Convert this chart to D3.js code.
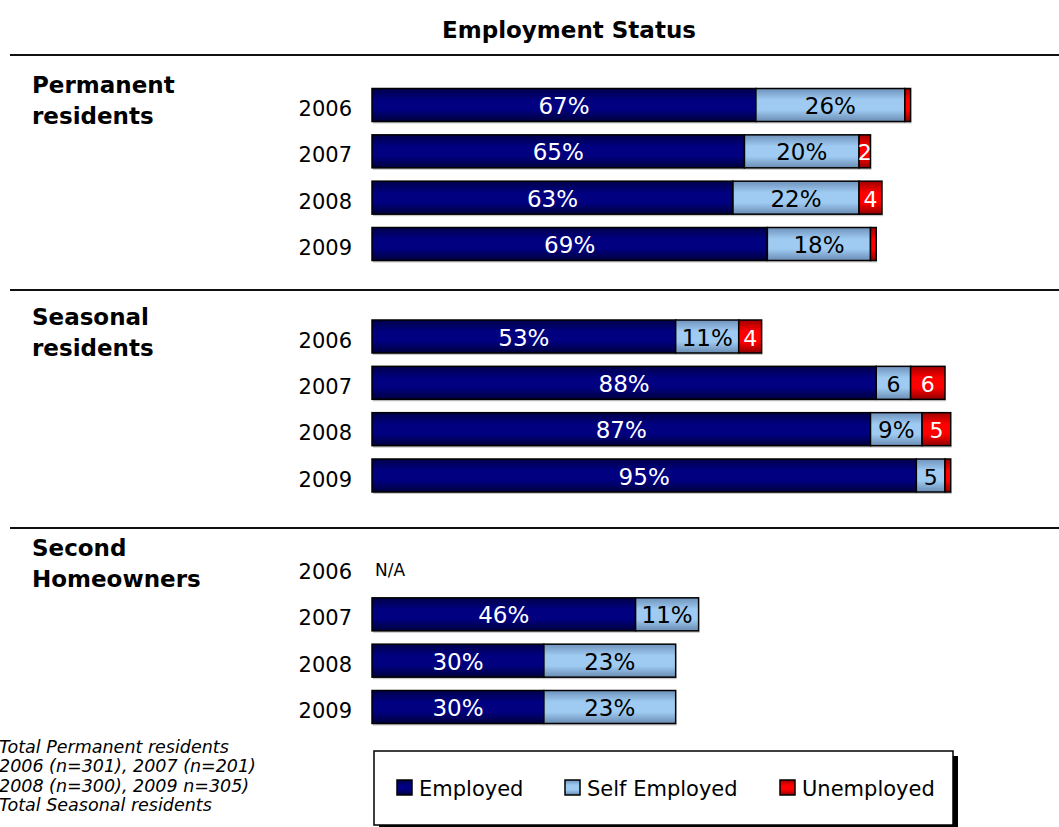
<!DOCTYPE html>
<html>
<head>
<meta charset="utf-8">
<script src="https://cdn.jsdelivr.net/npm/d3@7"></script>
<style>
  body { margin: 0; background: #fff; }
  svg { display: block; font-family: "DejaVu Sans", Verdana, sans-serif; }
</style>
</head>
<body>
<div id="chart"></div>
<script>
// data
const years = ["2006", "2007", "2008", "2009"];
const groupNames = [["Permanent", "residents"], ["Seasonal", "residents"], ["Second", "Homeowners"]];
const seriesNames = ["Employed", "Self Employed", "Unemployed"];
const employed = [[67, 65, 63, 69], [53, 88, 87, 95], [null, 46, 30, 30]];
const selfEmployed = [[26, 20, 22, 18], [11, 6, 9, 5], [null, 11, 23, 23]];
const unemployed = [[1, 2, 4, 1], [4, 6, 5, 1], [null, 0, 0, 0]];
const notes = [
  "Total Permanent residents",
  "2006 (n=301), 2007 (n=201)",
  "2008 (n=300), 2009 n=305)",
  "Total Seasonal residents"
];

const width = 1059, height = 827;
const barH = 33;

const svg = d3.select("#chart").append("svg")
  .attr("width", width)
  .attr("height", height);

//gradients for the bar fills
const defs = svg.append("defs");
const grads = [
  ["gEmp", "#00004a", "#000080", "#00003c"],
  ["gSelf", "#6f92bb", "#9fcbf2", "#6a8cb4"],
  ["gUnemp", "#a00000", "#ff0000", "#900000"]
];
grads.forEach(([id, a, b, c]) => {
  const lg = defs.append("linearGradient").attr("id", id)
    .attr("x1", 0).attr("y1", 0).attr("x2", 0).attr("y2", 1);
  lg.append("stop").attr("offset", "0%").attr("stop-color", a);
  lg.append("stop").attr("offset", "35%").attr("stop-color", b);
  lg.append("stop").attr("offset", "65%").attr("stop-color", b);
  lg.append("stop").attr("offset", "100%").attr("stop-color", c);
});
const fills = ["url(#gEmp)", "url(#gSelf)", "url(#gUnemp)"];
const textColors = ["#fff", "#000", "#fff"];

//scales
const x = d3.scaleLinear().domain([0, 100]).range([372, 945]);
const yGroup = d3.scalePoint().domain([0, 1, 2]).range([105, 568]);
const yRow = d3.scalePoint().domain(years).range([0, 139]);

//title
svg.append("text")
  .attr("x", 569).attr("y", 38)
  .attr("text-anchor", "middle")
  .style("font-weight", "bold")
  .style("font-size", "23px")
  .text("Employment Status");

//separator lines
[55, 290, 528].forEach((ly) => {
  svg.append("line")
    .attr("x1", 10).attr("x2", width)
    .attr("y1", ly).attr("y2", ly)
    .attr("stroke", "#111").attr("stroke-width", 2);
});

//build rows
let rows = [];
groupNames.forEach((g, gi) => {
  years.forEach((yr, i) => {
    rows.push({
      group: gi, year: yr,
      cy: yGroup(gi) + yRow(yr),
      values: employed[gi][i] == null ? null :
        [employed[gi][i], selfEmployed[gi][i], unemployed[gi][i]]
    });
  });
});

//group labels
groupNames.forEach((g, gi) => {
  const t = svg.append("text")
    .attr("x", 32)
    .style("font-weight", "bold")
    .style("font-size", "23px");
  g.forEach((line, li) => {
    t.append("tspan").attr("x", 32)
      .attr("y", yGroup(gi) - 12 + li * 31)
      .text(line);
  });
});

//year labels
svg.selectAll(".yearLabel").data(rows).enter().append("text")
  .attr("class", "yearLabel")
  .attr("x", 352).attr("y", (d) => d.cy + 11)
  .attr("text-anchor", "end")
  .style("font-size", "21px")
  .text((d) => d.year);

const fmt = (v) => (v >= 9 ? v + "%" : v >= 2 ? String(v) : "");

rows.forEach((r) => {
  if (!r.values) {
    svg.append("text")
      .attr("x", 375).attr("y", r.cy + 8)
      .style("font-size", "17px")
      .text("N/A");
    return;
  }
  let start = 0;
  const total = d3.sum(r.values.filter((v) => v > 0));
  // light shadow under the bar
  svg.append("rect")
    .attr("x", x(0) + 1).attr("y", r.cy + barH / 2)
    .attr("width", x(total) - x(0)).attr("height", 2)
    .attr("fill", "#c8c8c8");
  r.values.forEach((v, k) => {
    if (!v) return;
    const x0 = x(start), x1 = x(start + v);
    svg.append("rect")
      .attr("x", x0).attr("y", r.cy - barH / 2)
      .attr("width", x1 - x0).attr("height", barH)
      .attr("fill", fills[k])
      .attr("stroke", "#000").attr("stroke-width", 1.5);
    const lbl = fmt(v);
    if (lbl) {
      svg.append("text")
        .attr("x", (x0 + x1) / 2).attr("y", r.cy + 9)
        .attr("text-anchor", "middle")
        .attr("fill", textColors[k])
        .style("font-size", v >= 9 ? "23px" : "22px")
        .text(lbl);
    }
    start += v;
  });
});

//footnote
notes.forEach((n, i) => {
  svg.append("text")
    .attr("x", -1).attr("y", 753 + i * 19.3)
    .style("font-style", "italic")
    .style("font-size", "17.5px")
    .text(n);
});

//legend
const legend = svg.append("g");
legend.append("rect")
  .attr("x", 379).attr("y", 756).attr("width", 579).attr("height", 74)
  .attr("fill", "#000");
legend.append("rect")
  .attr("x", 374).attr("y", 751).attr("width", 579).attr("height", 74)
  .attr("fill", "#fff").attr("stroke", "#000").attr("stroke-width", 1.5);
const legendX = [397, 565, 780];
seriesNames.forEach((s, k) => {
  legend.append("rect")
    .attr("x", legendX[k]).attr("y", 780).attr("width", 15).attr("height", 15)
    .attr("fill", fills[k]).attr("stroke", "#000").attr("stroke-width", 1.5);
  legend.append("text")
    .attr("x", legendX[k] + 22).attr("y", 796)
    .style("font-size", "21px")
    .text(s);
});
</script>
</body>
</html>
